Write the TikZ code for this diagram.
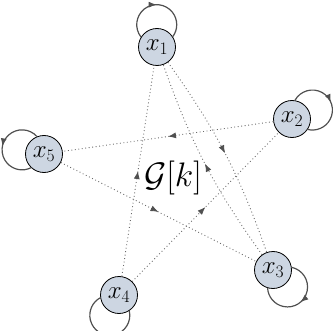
\RequirePackage{fix-cm}
\documentclass[tikz,border=0pt]{standalone}
\usetikzlibrary{decorations.markings,arrows.meta}
\definecolor{nodefill}{HTML}{CDD6E2}
\definecolor{loopc}{HTML}{505050}
\definecolor{dotc}{HTML}{6A6A6A}
\tikzset{
 vert/.style={circle,draw=black,line width=0.8pt,fill=nodefill,minimum size=37pt,inner sep=0pt,font=\fontsize{25}{28}\selectfont},
 midarrow/.style={postaction={decorate},decoration={markings,mark=at position 0.5 with {\arrow{Latex[length=8pt,width=6pt,color=loopc]}}}},
 dotedge/.style={draw=dotc,line width=0.9pt,dash pattern=on 0.9pt off 2.6pt,midarrow},
 selfloop/.style={draw=loopc,line width=1.2pt,midarrow},
}
\begin{document}
\begin{tikzpicture}[x=1pt,y=1pt]
\useasboundingbox (0,0) rectangle (335,330);
\node[vert] (x1) at (157,283) {$x_1$};
\node[vert] (x2) at (292,211) {$x_2$};
\node[vert] (x3) at (273,60) {$x_3$};
\node[vert] (x4) at (119,35) {$x_4$};
\node[vert] (x5) at (44,176) {$x_5$};
\node (g) at (173,152) {\fontsize{34}{38}\selectfont$\mathcal{G}[k]$};
\draw[dotedge] (x4) -- (x1);
\draw[dotedge] (x1) to[bend left=8] (x3);
\draw[dotedge] (x3) to[bend left=8] (x1);
\draw[dotedge] (x2) -- (x5);
\draw[dotedge] (x5) -- (x3);
\draw[dotedge] (x4) -- (x2);
% self loops: circular arcs of radius 20 centred 22 from the node centre
\draw[selfloop] (x1.148) arc[start angle=218, end angle=-38, radius=20];
\draw[selfloop] (x2.81) arc[start angle=151, end angle=-105, radius=20];
\draw[selfloop] (x3.8) arc[start angle=78, end angle=-178, radius=20];
\draw[selfloop] (x4.-57) arc[start angle=13, end angle=-243, radius=20];
\draw[selfloop] (x5.112) arc[start angle=42, end angle=298, radius=20];
\end{tikzpicture}
\end{document}
